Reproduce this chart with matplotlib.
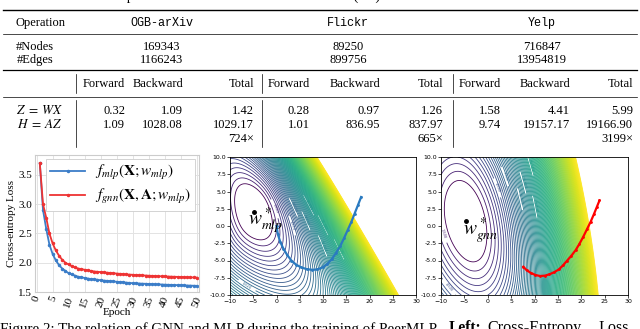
import numpy as np
import matplotlib
matplotlib.use('Agg')
import matplotlib.pyplot as plt
from matplotlib.lines import Line2D
from matplotlib.colors import PowerNorm

plt.rcParams['mathtext.fontset'] = 'stix'

# ---------------- data ----------------
datasets = ['OGB-arXiv', 'Flickr', 'Yelp']
num_nodes = ['169343', '89250', '716847']
num_edges = ['1166243', '899756', '13954819']
ops = [r'$Z\;=\;WX$', r'$H\;=\;AZ$']
forward = [['0.32', '1.09'], ['0.28', '1.01'], ['1.58', '9.74']]
backward = [['1.09', '1028.08'], ['0.97', '836.95'], ['4.41', '19157.17']]
total = [['1.42', '1029.17'], ['1.26', '837.97'], ['5.99', '19166.90']]
speedup = ['724×', '665×', '3199×']

epochs = list(range(1, 51))
mlp_loss = [3.70, 2.90, 2.58, 2.31, 2.15, 2.04, 1.96, 1.90, 1.86, 1.82,
            1.80, 1.78, 1.76, 1.75, 1.74, 1.73, 1.72, 1.715, 1.71, 1.70,
            1.695, 1.69, 1.685, 1.68, 1.675, 1.67, 1.665, 1.66, 1.655, 1.65,
            1.648, 1.645, 1.642, 1.64, 1.637, 1.635, 1.632, 1.63, 1.628, 1.625,
            1.623, 1.621, 1.619, 1.617, 1.615, 1.613, 1.611, 1.609, 1.607, 1.605]
gnn_loss = [3.70, 3.00, 2.77, 2.50, 2.33, 2.21, 2.12, 2.05, 2.00, 1.97,
            1.94, 1.92, 1.90, 1.89, 1.88, 1.87, 1.86, 1.85, 1.845, 1.84,
            1.835, 1.83, 1.825, 1.82, 1.815, 1.81, 1.805, 1.80, 1.797, 1.794,
            1.79, 1.787, 1.784, 1.781, 1.778, 1.775, 1.772, 1.77, 1.768, 1.766,
            1.764, 1.762, 1.76, 1.758, 1.756, 1.754, 1.752, 1.75, 1.748, 1.746]

mlp_path_x = [0.0, 0.3, 0.8, 1.5, 2.3, 3.2, 4.2, 5.3, 6.5, 7.7, 8.8, 9.9,
              10.9, 11.9, 12.8, 13.7, 14.5, 15.3, 16.1, 16.8, 17.5, 18.2]
mlp_path_y = [0.0, -1.2, -2.3, -3.3, -4.2, -5.0, -5.6, -6.0, -6.25, -6.35, -6.3, -6.0,
              -5.5, -4.8, -3.9, -2.9, -1.8, -0.6, 0.6, 1.8, 3.0, 4.2]
gnn_path_x = [7.6, 8.3, 9.2, 10.2, 11.2, 12.2, 13.2, 14.2, 15.2, 16.1, 17.0, 17.9,
              18.8, 19.6, 20.4, 21.2, 22.0, 22.7, 23.3, 23.9]
gnn_path_y = [-5.9, -6.4, -6.8, -7.1, -7.25, -7.2, -7.0, -6.7, -6.3, -5.7, -5.0, -4.3,
              -3.5, -2.6, -1.6, -0.5, 0.6, 1.7, 2.7, 3.7]
w_mlp_star = (-4.9, 2.1)
w_gnn_star = (-4.6, 0.7)

# ---------------- figure ----------------
W, H = 640, 329
fig = plt.figure(figsize=(6.4, 3.29), dpi=100)
def fx(px): return px / W
def fy(py): return 1 - py / H

serif = 'Liberation Serif'
mono = 'Liberation Mono'

# cut caption line above the table
fig.text(fx(384), fy(0.3), 'of each GNN layer, measured the forward and backward of two operation. The time unit is milliseconds (ms).',
         fontsize=10.5, family=serif, va='baseline', ha='right')

def hline(y, x0=3, x1=637, lw=0.5):
    fig.add_artist(Line2D([fx(x0), fx(x1)], [fy(y), fy(y)], color='black', lw=lw))
def vline(x, y0, y1, lw=0.5):
    fig.add_artist(Line2D([fx(x), fx(x)], [fy(y0), fy(y1)], color='black', lw=lw))

hline(10, lw=1.0)
hline(34, lw=0.5)
hline(69.5, lw=0.9)
hline(97, lw=0.5)

ts = 9
fig.text(fx(40), fy(23), 'Operation', fontsize=ts, family=serif, ha='center', va='center')
fig.text(fx(35), fy(47), '#Nodes', fontsize=ts, family=serif, ha='center', va='center')
fig.text(fx(35), fy(60), '#Edges', fontsize=ts, family=serif, ha='center', va='center')
ds_x = [162, 348, 542]
for i, d in enumerate(datasets):
    fig.text(fx(ds_x[i]), fy(23), d, fontsize=8.5, family=mono, ha='center', va='center')
    fig.text(fx(ds_x[i]), fy(47), num_nodes[i], fontsize=ts, family=serif, ha='center', va='center')
    fig.text(fx(ds_x[i]), fy(60), num_edges[i], fontsize=ts, family=serif, ha='center', va='center')

col_right = [[125, 183, 254], [310, 380, 443], [501, 570, 633]]
row_y = [111, 125]
for i in range(3):
    fr, br, tr = col_right[i]
    fig.text(fx(fr), fy(84), 'Forward', fontsize=ts, family=serif, ha='right', va='center')
    fig.text(fx(br), fy(84), 'Backward', fontsize=ts, family=serif, ha='right', va='center')
    fig.text(fx(tr), fy(84), 'Total', fontsize=ts, family=serif, ha='right', va='center')
    for r in range(2):
        fig.text(fx(fr), fy(row_y[r]), forward[i][r], fontsize=ts, family=serif, ha='right', va='center')
        fig.text(fx(br), fy(row_y[r]), backward[i][r], fontsize=ts, family=serif, ha='right', va='center')
        fig.text(fx(tr), fy(row_y[r]), total[i][r], fontsize=ts, family=serif, ha='right', va='center')
    fig.text(fx(tr), fy(139), speedup[i], fontsize=ts, family=serif, ha='right', va='center')
for r in range(2):
    fig.text(fx(40), fy(row_y[r]), ops[r], fontsize=ts + 0.5, ha='center', va='center')
for xs in [76, 262, 453]:
    vline(xs, 74, 93)
    vline(xs, 100, 147)

# ---------------- loss curves ----------------
ax1 = fig.add_axes([fx(35), fy(292), (199 - 35) / W, (292 - 155) / H])
ax1.grid(True, color='#e3e3e3', lw=0.7)
ax1.set_axisbelow(True)
for s in ax1.spines.values():
    s.set_color('#cccccc')
ax1.plot(epochs, mlp_loss, color='#3b7dc8', marker='.', ms=3, lw=1.3,
         label=r'$f_{mlp}(\mathbf{X};w_{mlp})$')
ax1.plot(epochs, gnn_loss, color='#ee3333', marker='.', ms=3, lw=1.3,
         label=r'$f_{gnn}(\mathbf{X},\mathbf{A};w_{mlp})$')
ax1.set_ylim(1.5, 3.84)
ax1.set_xlim(-0.5, 50.7)
ax1.set_xticks(range(0, 51, 5))
ax1.set_yticks([1.5, 2.0, 2.5, 3.0, 3.5])
ax1.tick_params(length=0, labelsize=8, pad=2)
for lab in ax1.get_xticklabels() + ax1.get_yticklabels():
    lab.set_family(serif)
for lab in ax1.get_xticklabels():
    lab.set_rotation(70)
ax1.set_xlabel('Epoch', family=serif, fontsize=8, labelpad=0)
ax1.set_ylabel('Cross-entropy Loss', family=serif, fontsize=8, labelpad=2)
leg = ax1.legend(loc='upper right', fontsize=11, handlelength=2.3, borderpad=0.3,
                 labelspacing=0.3, borderaxespad=0.25, handletextpad=0.6,
                 framealpha=1, edgecolor='#cccccc', fancybox=False)
leg.get_frame().set_linewidth(0.6)

# ---------------- contour plots ----------------
gx = np.linspace(-10, 30, 320)
gy = np.linspace(-10, 10, 220)
X, Y = np.meshgrid(gx, gy)

def style_contour_ax(ax):
    ax.set_xlim(-10, 30)
    ax.set_ylim(-10, 10)
    ax.set_xticks(range(-10, 31, 5))
    ax.set_yticks(np.arange(-10, 10.1, 2.5))
    ax.yaxis.set_major_formatter(matplotlib.ticker.FormatStrFormatter('%.1f'))
    ax.tick_params(labelsize=4.5, length=2, width=0.5, pad=1)
    for s in ax.spines.values():
        s.set_linewidth(0.6)

# MLP surface: quadratic near the minimum, steepening towards the upper right
s1 = 0.13
cu = ((X - w_mlp_star[0]) + (Y - w_mlp_star[1])) / np.sqrt(2)
cv = ((X - w_mlp_star[0]) - (Y - w_mlp_star[1])) / np.sqrt(2)
Z1 = ((np.exp(s1 * cu) - 1 - s1 * cu) * 2 / s1 ** 2 / 10.6
      + cv ** 2 / (16.0 * (1 + np.abs(cv) / 10.0)))
ax2 = fig.add_axes([fx(230), fy(295), (416 - 230) / W, (295 - 157) / H])
lv1 = np.linspace(1.0, 48.0, 118)
cs1 = ax2.contour(X, Y, Z1, levels=lv1, cmap='viridis',
                  norm=PowerNorm(0.5, vmin=1.0, vmax=48.0), linewidths=0.6)
ax2.clabel(cs1, lv1[2:50:6], fontsize=2.5, inline=True, fmt='%.3f')
ax2.plot(mlp_path_x, mlp_path_y, color='#2a7ac0', lw=1.6, marker='.', ms=2)
ax2.plot(*w_mlp_star, 'o', color='black', ms=2.5)
ax2.text(w_mlp_star[0] - 1.3, 0.0, r'$w^*_{mlp}$', fontsize=14)
style_contour_ax(ax2)

# GNN surface
s2 = 0.05
gu = (X - w_gnn_star[0]) + 0.25 * (Y - w_gnn_star[1])
Z2 = (np.exp(s2 * gu) - 1 - s2 * gu) * 2 / s2 ** 2 / 18.5 + (Y - w_gnn_star[1]) ** 2 / 34.8
ax3 = fig.add_axes([fx(441), fy(295), (628 - 441) / W, (295 - 157) / H])
lv2 = np.linspace(1.0, 60.0, 119)
cs2 = ax3.contour(X, Y, Z2, levels=lv2, cmap='viridis',
                  norm=PowerNorm(0.5, vmin=1.0, vmax=60.0), linewidths=0.6)
ax3.clabel(cs2, lv2[1:40:6], fontsize=2.5, inline=True, fmt='%.3f')
ax3.plot(gnn_path_x, gnn_path_y, color='red', lw=1.6, marker='.', ms=2)
ax3.plot(*w_gnn_star, 'o', color='black', ms=2.5)
ax3.text(w_gnn_star[0] - 0.7, w_gnn_star[1] - 2.0, r'$w^*_{gnn}$', fontsize=14)
style_contour_ax(ax3)

# cut caption below (LaTeX-justified line: words placed at their measured positions)
cap_y = fy(332.5)
fig.text(fx(0), cap_y, 'Figure 2: The relation of GNN and MLP during the training of PeerMLP.',
         fontsize=10.8, family=serif, va='baseline', ha='left')
fig.text(fx(449), cap_y, 'Left:', fontsize=11.2, family=serif, weight='bold',
         va='baseline', ha='left')
fig.text(fx(487), cap_y, 'Cross-Entropy', fontsize=11.6, family=serif,
         va='baseline', ha='left')
fig.text(fx(598), cap_y, 'Loss', fontsize=11.6, family=serif,
         va='baseline', ha='left')

fig.savefig('out.png', dpi=100)
